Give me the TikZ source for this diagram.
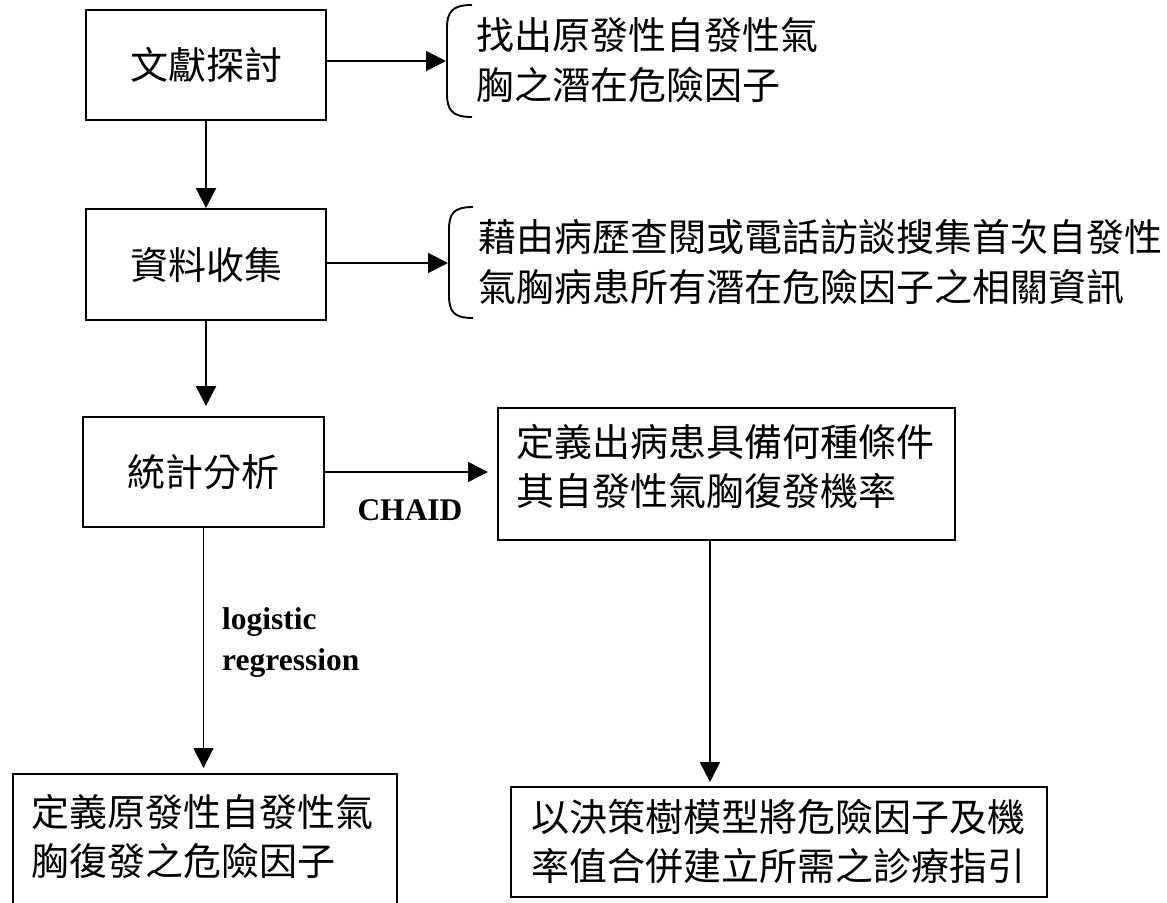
\documentclass[tikz,border=0pt]{standalone}
\usepackage{fontspec}
\setmainfont{Liberation Serif}
\newfontfamily\twfont{Noto Sans CJK TC}
\usetikzlibrary{arrows.meta}

\tikzset{
  box/.style={draw,line width=1.9bp,inner sep=0pt,font=\twfont\fontsize{38bp}{49bp}\selectfont},
  note/.style={font=\twfont\fontsize{38bp}{50bp}\selectfont,align=left,inner sep=0pt},
  flow/.style={-{Triangle[length=20bp,width=20bp]},line width=1.9bp},
  brace/.style={line width=1.9bp},
  method/.style={font=\bfseries\fontsize{31.5bp}{41bp}\selectfont,inner sep=0pt,align=left}
}

\begin{document}
\begin{tikzpicture}[x=1bp,y=-1bp]
\useasboundingbox (0,0) rectangle (1167,903);
\clip (0,0) rectangle (1167,903);

% ---------- left column ----------
\node[box,minimum width=240bp,minimum height=110bp] (lit) at (206,65) {文獻探討};
\node[box,minimum width=240bp,minimum height=111bp] (data) at (206,264.5) {資料收集};
\node[box,minimum width=241bp,minimum height=110bp] (stat) at (203.5,472) {統計分析};
\node[box,anchor=north west,inner xsep=19bp,inner ysep=20bp] (factor) at (12,773)
  {\parbox[t][127bp][t]{346bp}{定義原發性自發性氣\\胸復發之危險因子}};

% ---------- notes with brackets ----------
\node[note,anchor=west] (litnote) at (476,60) {找出原發性自發性氣\\胸之潛在危險因子};
\node[note,anchor=west] (datanote) at (478,262)
  {藉由病歷查閱或電話訪談搜集首次自發性\\氣胸病患所有潛在危險因子之相關資訊};
\draw[brace] (472,5) .. controls (452,5) and (447,12) .. (447,28) -- (447,94)
  .. controls (447,110) and (452,117) .. (472,117);
\coordinate (litin) at (446,61);
\draw[brace] (473,207) .. controls (453,207) and (449,214) .. (449,230) -- (449,295)
  .. controls (449,311) and (453,318) .. (473,318);
\coordinate (datain) at (448,263);

% ---------- right column ----------
\node[box,anchor=north west,inner xsep=19bp,inner ysep=16bp] (cond) at (497,407)
  {\parbox[t][100bp][t]{419bp}{定義出病患具備何種條件\\其自發性氣胸復發機率}};
\node[box,anchor=west,align=left,minimum height=110bp,inner xsep=21bp] (guide) at (510,842)
  {以決策樹模型將危險因子及機\\率值合併建立所需之診療指引};

% ---------- connectors ----------
\draw[flow] (lit.east |- litin) -- (litin);
\draw[flow] (lit) -- (data);
\draw[flow] (data.east |- datain) -- (datain);
\draw[flow,shorten >=10bp] (data.south) -- (data.south |- stat.north);
\draw[flow,shorten >=9bp] (stat.east) -- (stat.east -| cond.west);
\node[method] (chaid) at (410,510) {CHAID};
\draw[flow,shorten >=5bp] (stat.south) -- (stat.south |- factor.north);
\node[method,anchor=west] (logit) at (222,643) {logistic\\regression};
\draw[flow,shorten >=4bp] ([xshift=-16.5bp]cond.south) -- ([xshift=-16.5bp]cond.south |- guide.north);
\end{tikzpicture}
\end{document}
